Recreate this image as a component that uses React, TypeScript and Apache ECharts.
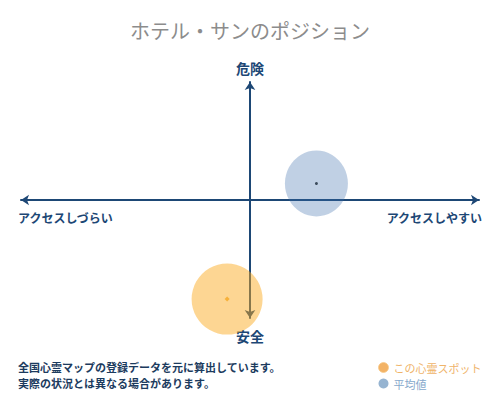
import React, { useEffect, useRef } from "react";
import * as echarts from "echarts";

const titleText = "ホテル・サンのポジション";
const axisLabels = { top: "危険", bottom: "安全", left: "アクセスしづらい", right: "アクセスしやすい" };
const seriesNames = ["この心霊スポット", "平均値"];
const spotPoint = [-1.0, -8.4];
const averagePoint = [2.9, 1.4];
const noteLines = ["全国心霊マップの登録データを元に算出しています。", "実際の状況とは異なる場合があります。"];

const FONT = "'Noto Sans CJK JP', 'Noto Sans', sans-serif";
const NAVY = "#1d4775";

export default function App() {
  const ref = useRef<HTMLDivElement>(null);
  useEffect(() => {
    if (!ref.current) return;
    const chart = echarts.init(ref.current, null, { renderer: "svg" });
    chart.setOption({
      animation: false,
      backgroundColor: "#ffffff",
      textStyle: { fontFamily: FONT },
      title: {
        text: titleText,
        left: "center",
        top: 15,
        textStyle: { fontFamily: FONT, fontSize: 20, fontWeight: "normal", color: "#8c8c8c" },
      },
      grid: { left: 21, right: 21, top: 82, bottom: 82 },
      xAxis: {
        type: "value",
        min: -10,
        max: 10,
        axisLine: {
          onZero: true,
          symbol: ["arrow", "arrow"],
          symbolSize: [8, 8],
          lineStyle: { color: NAVY, width: 2 },
        },
        axisTick: { show: false },
        axisLabel: { show: false },
        splitLine: { show: false },
      },
      yAxis: {
        type: "value",
        min: -10,
        max: 10,
        axisLine: {
          onZero: true,
          symbol: ["arrow", "arrow"],
          symbolSize: [8, 8],
          lineStyle: { color: NAVY, width: 2 },
        },
        axisTick: { show: false },
        axisLabel: { show: false },
        splitLine: { show: false },
      },
      legend: {
        orient: "vertical",
        left: 373,
        top: 357,
        itemWidth: 10,
        itemHeight: 10,
        itemGap: 5,
        icon: "circle",
        data: [
          {
            name: seriesNames[0],
            itemStyle: { color: "#f0a040", borderColor: "#f7c98a", borderWidth: 1 },
            textStyle: { color: "#efb46a", fontSize: 11, fontFamily: FONT },
          },
          {
            name: seriesNames[1],
            itemStyle: { color: "#7ca1c6" },
            textStyle: { color: "#86a8cb", fontSize: 11, fontFamily: FONT },
          },
        ],
      },
      series: [
        {
          name: seriesNames[1],
          type: "scatter",
          symbol: "circle",
          symbolSize: [63, 66],
          data: [averagePoint],
          itemStyle: { color: "rgba(60,110,170,0.4)" },
          z: 3,
        },
        {
          name: seriesNames[0],
          type: "scatter",
          symbol: "circle",
          symbolSize: 71,
          data: [spotPoint],
          itemStyle: { color: "rgba(251,170,30,0.6)" },
          z: 3,
        },
        {
          name: "avg-center",
          type: "scatter",
          symbol: "circle",
          symbolSize: 3,
          data: [averagePoint],
          itemStyle: { color: "#1a2a3a" },
          z: 4,
        },
        {
          name: "spot-center",
          type: "scatter",
          symbol: "diamond",
          symbolSize: 5,
          data: [spotPoint],
          itemStyle: { color: "#f5a623" },
          z: 4,
        },
      ],
      graphic: [
        {
          type: "text",
          x: 250,
          y: 68,
          style: {
            text: axisLabels.top,
            fill: NAVY,
            font: `bold 14px ${FONT}`,
            textAlign: "center",
            textVerticalAlign: "middle",
          },
        },
        {
          type: "text",
          x: 250,
          y: 336,
          style: {
            text: axisLabels.bottom,
            fill: NAVY,
            font: `bold 14px ${FONT}`,
            textAlign: "center",
            textVerticalAlign: "middle",
          },
        },
        {
          type: "text",
          x: 18,
          y: 217,
          style: {
            text: axisLabels.left,
            fill: NAVY,
            font: `bold 12px ${FONT}`,
            textAlign: "left",
            textVerticalAlign: "middle",
          },
        },
        {
          type: "text",
          x: 482,
          y: 217,
          style: {
            text: axisLabels.right,
            fill: NAVY,
            font: `bold 12px ${FONT}`,
            textAlign: "right",
            textVerticalAlign: "middle",
          },
        },
        {
          type: "text",
          x: 18,
          y: 367,
          style: {
            text: noteLines[0],
            fill: "#1c3b5e",
            font: `bold 11px ${FONT}`,
            textAlign: "left",
            textVerticalAlign: "middle",
          },
        },
        {
          type: "text",
          x: 18,
          y: 383,
          style: {
            text: noteLines[1],
            fill: "#1c3b5e",
            font: `bold 11px ${FONT}`,
            textAlign: "left",
            textVerticalAlign: "middle",
          },
        },
      ],
    });
    return () => chart.dispose();
  }, []);
  return (
    <div
      ref={ref}
      style={{ position: "fixed", left: 0, top: 0, width: 500, height: 400, background: "#fff" }}
    />
  );
}
